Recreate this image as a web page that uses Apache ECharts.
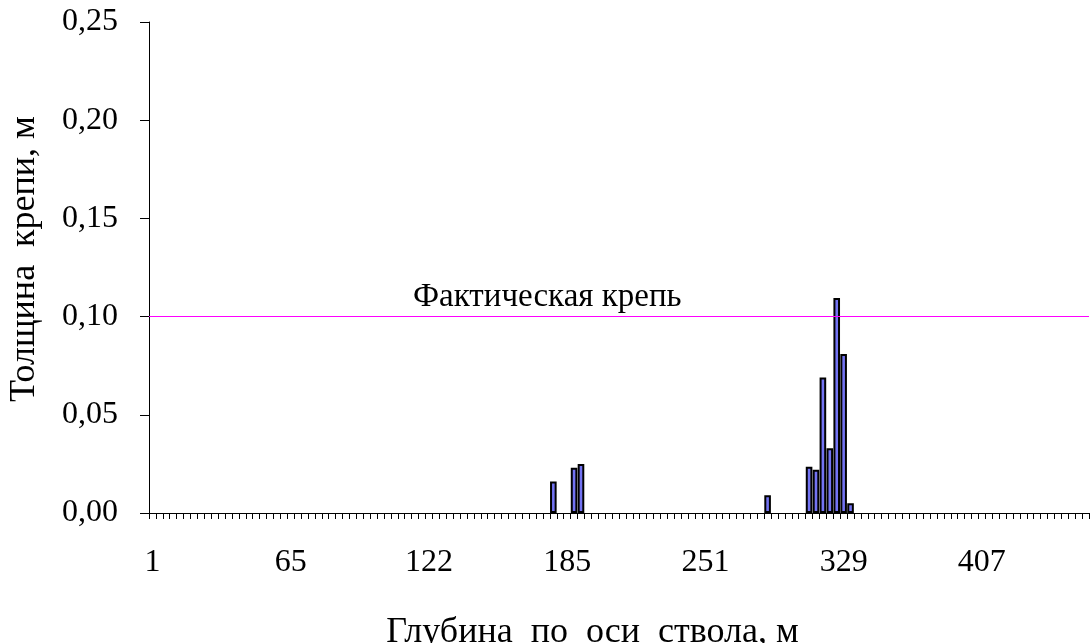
<!DOCTYPE html>
<html>
<head>
<meta charset="utf-8">
<script src="https://cdn.jsdelivr.net/npm/echarts@6/dist/echarts.min.js"></script>
<style>
  html, body { margin: 0; padding: 0; background: #fff; }
  #chart { width: 1091px; height: 643px; }
</style>
</head>
<body>
<div id="chart"></div>
<script>
// ---- data ----
const categoryCount = 136;                       // number of depth categories on the x axis
const tickLabels = ['1', '65', '122', '185', '251', '329', '407'];   // shown depth labels
const tickLabelStep = 20;                        // a label every 20 categories
const barCategoryIndex = [58, 61, 62, 89, 95, 96, 97, 98, 99, 100, 101];
const barValues = [0.016, 0.023, 0.025, 0.009, 0.0235, 0.022, 0.069, 0.033, 0.1095, 0.081, 0.005];
const liningLevel = 0.10;
const liningLabel = 'Фактическая крепь';
const xAxisTitle = 'Глубина  по  оси  ствола, м';
const yAxisTitle = 'Толщина  крепи, м';

// ---- build ----
const categories = Array.from({ length: categoryCount }, (_, i) => String(i));
const seriesData = categories.map(() => '-');
barCategoryIndex.forEach((c, k) => { seriesData[c] = barValues[k]; });

const FONT = 'Liberation Serif';
const FS_TICK = 32;
const FS_TITLE = 36;

const chart = echarts.init(document.getElementById('chart'));
chart.setOption({
  animation: false,
  backgroundColor: '#ffffff',
  grid: { left: 149, right: 2, top: 22, bottom: 130, containLabel: false, outerBoundsMode: 'none' },
  xAxis: {
    type: 'category',
    data: categories,
    boundaryGap: true,
    name: xAxisTitle,
    nameLocation: 'middle',
    nameGap: 102,
    nameTextStyle: { fontFamily: FONT, fontSize: FS_TITLE, color: '#000', padding: [0, 53, 0, 0] },
    axisLine: { show: true, lineStyle: { color: '#000', width: 1 } },
    axisTick: { show: true, interval: 0, length: 6, lineStyle: { color: '#000', width: 1 } },
    axisLabel: {
      interval: (i) => i % tickLabelStep === 0,
      formatter: (v, i) => (tickLabels[i / tickLabelStep] !== undefined ? tickLabels[i / tickLabelStep] : ''),
      margin: 34,
      fontFamily: FONT, fontSize: FS_TICK, color: '#000'
    },
    splitLine: { show: false }
  },
  yAxis: {
    type: 'value',
    min: 0, max: 0.25, interval: 0.05,
    name: yAxisTitle,
    nameLocation: 'middle',
    nameGap: 106,
    nameRotate: 90,
    nameTextStyle: { fontFamily: FONT, fontSize: FS_TITLE, color: '#000', padding: [0, 0, 0, 17] },
    axisLine: { show: true, lineStyle: { color: '#000', width: 1 } },
    axisTick: { show: true, length: 9, lineStyle: { color: '#000', width: 1 } },
    axisLabel: {
      formatter: (v) => v.toFixed(2).replace('.', ','),
      margin: 31,
      fontFamily: FONT, fontSize: FS_TICK, color: '#000'
    },
    splitLine: { show: false }
  },
  series: [{
    type: 'bar',
    data: seriesData,
    barWidth: 6.6,
    itemStyle: { color: '#7373F2', borderColor: '#000', borderWidth: 2 },
    markLine: {
      silent: true,
      symbol: ['none', 'none'],
      lineStyle: { color: '#FF00FF', width: 1, type: 'solid' },
      label: {
        show: true,
        formatter: liningLabel,
        position: 'insideStartTop',
        distance: [264, 3],
        fontFamily: FONT, fontSize: 33, color: '#000'
      },
      data: [{ yAxis: liningLevel }]
    }
  }]
});
</script>
</body>
</html>
